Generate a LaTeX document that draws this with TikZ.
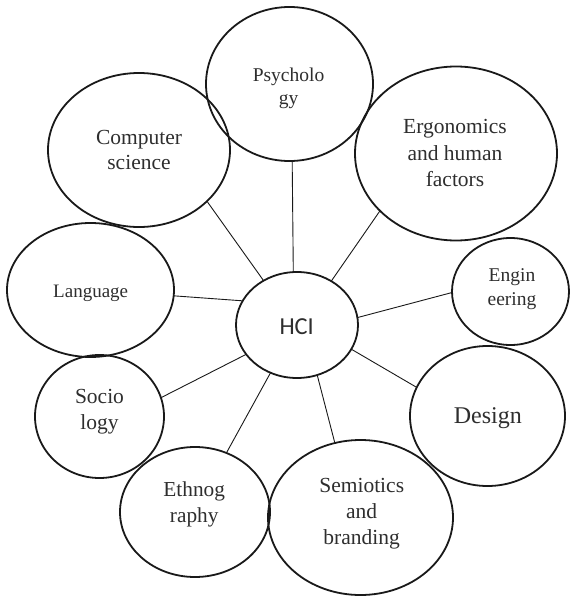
\documentclass[tikz,border=0pt]{standalone}
\usepackage{fontspec}
\setmainfont{Liberation Serif}
\newfontfamily\hcifont{Carlito}
\usetikzlibrary{shapes.geometric}

\tikzset{
  field/.style={ellipse, draw=black!90, line width=1.8pt, inner sep=0pt, outer sep=0pt},
  link/.style={draw=black!90, line width=0.9pt},
  lbl/.style={align=center, text=black!82, inner sep=0pt},
}

\begin{document}
\begin{tikzpicture}[x=1pt, y=-1pt]
  \useasboundingbox (0,0) rectangle (570,597);

  % discipline ellipses around the central HCI node
  \node[field, minimum width=167pt, minimum height=154pt] (psy)    at (289.5,84)    {};
  \node[field, minimum width=182pt, minimum height=154pt] (cs)     at (139,150)     {};
  \node[field, minimum width=202pt, minimum height=174pt] (ergo)   at (456,153.5)   {};
  \node[field, minimum width=167pt, minimum height=134pt] (lang)   at (90.5,290)    {};
  \node[field, minimum width=122pt, minimum height=106pt] (hci)    at (297,325)     {};
  \node[field, minimum width=117pt, minimum height=107pt] (eng)    at (510.5,291.5) {};
  \node[field, minimum width=155pt, minimum height=140pt] (design) at (487.5,416)   {};
  \node[field, minimum width=129pt, minimum height=123pt] (soc)    at (99.5,416.5)  {};
  \node[field, minimum width=150pt, minimum height=130pt] (eth)    at (195,512)     {};
  \node[field, minimum width=185pt, minimum height=155pt] (sem)    at (360.5,517.5) {};

  % labels
  \node[lbl, font=\fontsize{19.5}{23}\selectfont] (psy-t)    at (288.5,88)  {Psycholo\\gy};
  \node[lbl, font=\fontsize{21.5}{25}\selectfont] (cs-t)     at (139,150.3) {Computer\\science};
  \node[lbl, font=\fontsize{21.5}{26.3}\selectfont] (ergo-t) at (455,153.1) {Ergonomics\\and human\\factors};
  \node[lbl, font=\fontsize{19}{23}\selectfont]   (lang-t)   at (90.7,293.1){Language};
  \node[lbl, font=\hcifont\fontsize{24.4}{29}\selectfont] (hci-t) at (296.7,327) {HCI};
  \node[lbl, font=\fontsize{19.5}{23.5}\selectfont] (eng-t)  at (512,288.9) {Engin\\eering};
  \node[lbl, font=\fontsize{24}{28}\selectfont]   (design-t) at (487.8,417.7){Design};
  \node[lbl, font=\fontsize{21.5}{26}\selectfont] (soc-t)    at (99.5,411.3){Socio\\logy};
  \node[lbl, font=\fontsize{21.3}{26}\selectfont] (eth-t)    at (194.2,504.7){Ethnog\\raphy};
  \node[lbl, font=\fontsize{21.5}{26.4}\selectfont] (sem-t)  at (361.7,513.7){Semiotics\\and\\branding};

  % spokes from HCI to each discipline
  \draw[link] (hci.94.3)  -- (psy.272.6);
  \draw[link] (hci.127.1) -- (cs.-37.5);
  \draw[link] (hci.52.7)  -- (ergo.217.1);
  \draw[link] (hci.156.4) -- (lang.-4.8);
  \draw[link] (hci.7.5)   -- (eng.181);
  \draw[link] (hci.-24.1) -- (design.158.9);
  \draw[link] (hci.210.3) -- (soc.17.3);
  \draw[link] (hci.241.6) -- (eth.62.7);
  \draw[link] (hci.292.2) -- (sem.109.3);
\end{tikzpicture}
\end{document}
